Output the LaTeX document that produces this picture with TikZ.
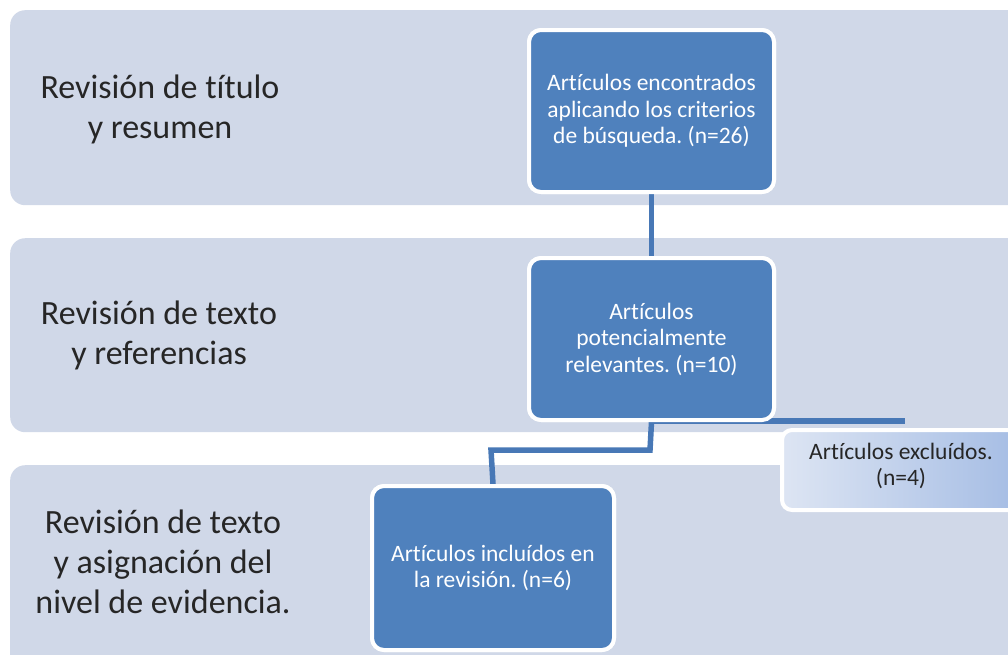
\documentclass[tikz,border=0pt]{standalone}
\usepackage{fontspec}
\setmainfont[Ligatures=NoCommon]{Carlito}
\definecolor{bandc}{HTML}{D0D8E8}
\definecolor{boxc}{HTML}{4F81BD}
\definecolor{linec}{HTML}{4878B6}
\definecolor{exlt}{HTML}{DDE5F3}
\definecolor{exdk}{HTML}{A4BCE4}
\begin{document}
\frenchspacing
\begin{tikzpicture}[x=1pt,y=-1pt,
  band/.style={fill=bandc,draw=none,rounded corners=15pt,anchor=north west,inner sep=0pt},
  bandtext/.style={align=center,font=\fontsize{34}{40}\selectfont,text=black!85,inner sep=0pt},
  stepbox/.style={fill=boxc,draw=white,line width=4pt,rounded corners=12pt,anchor=north west,
    inner sep=0pt,align=center,text=white,font=\fontsize{23.5}{26.5}\selectfont},
  exbox/.style={draw=white,line width=4pt,rounded corners=10pt,anchor=north west,inner sep=0pt,
    left color=exlt,right color=exdk},
  conn/.style={draw=linec,line width=5.5pt}]
\useasboundingbox (0,0) rectangle (1008,654);
\clip (0,0) rectangle (1008,654);
\fill[white] (0,0) rectangle (1008,654);
% bands
\node[band,minimum width=1020pt,minimum height=195pt] (band1) at (10,10) {};
\node[band,minimum width=1020pt,minimum height=194pt] (band2) at (10,238) {};
\node[band,minimum width=1020pt,minimum height=210pt] (band3) at (10,465) {};
\node[bandtext] (t1) at (160,109) {Revisión de título\\y resumen};
\node[bandtext] (t2) at (159,335) {Revisión de texto\\y referencias};
\node[bandtext] (t3) at (163,562) {Revisión de texto\\y asignación del\\nivel de evidencia.};
% connectors
\coordinate (j) at (650,421);
\coordinate (jr) at (905,421);
\coordinate (k) at (650,450);
\coordinate (kl) at (491,450);
\node[stepbox,minimum width=245pt,minimum height=162pt] (b1) at (527,28) {};
\node[stepbox,minimum width=245pt,minimum height=162pt] (b2) at (527,256) {};
\node[stepbox,minimum width=242pt,minimum height=164pt] (b3) at (370,484) {};
\draw[conn] (b1.south) -- (b2.north);
\draw[conn] (j) -- (jr);
\draw[conn] (b2.south) -- (k) -- (kl) -- (b3.north);
% redraw boxes on top
\node[stepbox,minimum width=245pt,minimum height=162pt] (b1t) at (527,28) {Artículos encontrados\\aplicando los criterios\\de búsqueda. (n=26)};
\node[stepbox,minimum width=245pt,minimum height=162pt] (b2t) at (527,256) {Artículos\\potencialmente\\relevantes. (n=10)};
\node[stepbox,minimum width=242pt,minimum height=164pt] (b3t) at (370,484) {Artículos incluídos en\\la revisión. (n=6)};
\node[exbox,minimum width=242pt,minimum height=80pt] (ex) at (780,428) {};
\node[align=center,font=\fontsize{23.5}{26}\selectfont,text=black!85,inner sep=0pt] (ext) at (901,466) {Artículos excluídos.\\(n=4)};
\end{tikzpicture}
\end{document}
